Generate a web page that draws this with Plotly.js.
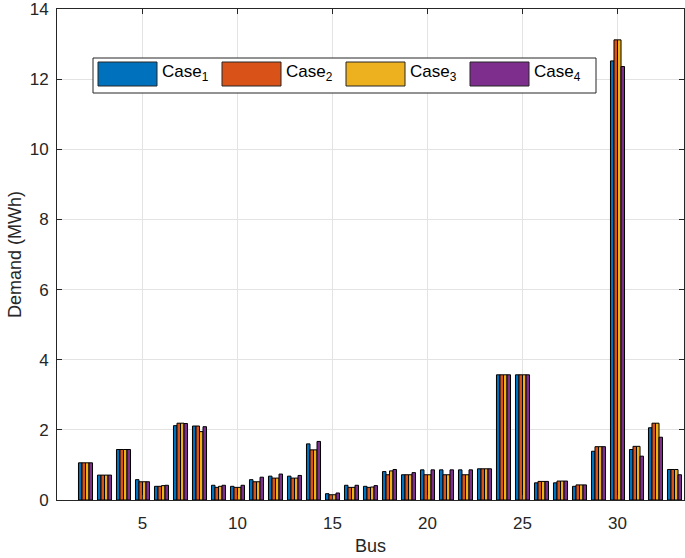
<!DOCTYPE html>
<html>
<head>
<meta charset="utf-8">
<script src="https://cdn.plot.ly/plotly-3.0.1.min.js"></script>
<style>html,body{margin:0;padding:0;background:#fff;}#chart{width:685px;height:558px;}</style>
</head>
<body>
<div id="chart"></div>
<script>
const buses = [2,3,4,5,6,7,8,9,10,11,12,13,14,15,16,17,18,19,20,21,22,23,24,25,26,27,28,29,30,31,32,33];
const case1 = [1.06,0.71,1.44,0.58,0.39,2.12,2.11,0.42,0.39,0.58,0.68,0.68,1.60,0.18,0.42,0.39,0.81,0.72,0.86,0.86,0.86,0.89,3.57,3.57,0.49,0.49,0.39,1.39,12.52,1.44,2.06,0.87];
const case2 = [1.06,0.71,1.44,0.52,0.39,2.19,2.11,0.36,0.36,0.52,0.625,0.625,1.43,0.15,0.36,0.36,0.72,0.72,0.72,0.72,0.72,0.89,3.57,3.57,0.53,0.54,0.43,1.52,13.12,1.53,2.19,0.87];
const case3 = [1.06,0.71,1.44,0.52,0.41,2.19,1.95,0.39,0.36,0.52,0.625,0.625,1.43,0.15,0.36,0.37,0.83,0.72,0.72,0.72,0.72,0.89,3.57,3.57,0.53,0.54,0.43,1.52,13.12,1.53,2.19,0.87];
const case4 = [1.06,0.71,1.44,0.52,0.42,2.18,2.09,0.42,0.42,0.65,0.74,0.70,1.67,0.20,0.42,0.41,0.87,0.78,0.86,0.86,0.86,0.89,3.57,3.57,0.53,0.54,0.43,1.52,12.36,1.25,1.79,0.72];
const seriesNames = ["Case<sub>1</sub>","Case<sub>2</sub>","Case<sub>3</sub>","Case<sub>4</sub>"];
const colors = ["#0072BD","#D95319","#EDB120","#7E2F8E"];
const xTicks = [5,10,15,20,25,30];
const yTicks = [0,2,4,6,8,10,12,14];

const series = [case1, case2, case3, case4];
const traces = series.map((vals, i) => ({
  type: 'bar', x: buses, y: vals, name: seriesNames[i],
  marker: {color: colors[i], line: {color: '#000000', width: 1}},
  showlegend: false
}));

// plot-area pixel geometry for the hand-laid legend box
const PL = 57, PR = 684, PT = 9, PB = 500;
const px = v => (v - PL) / (PR - PL);
const py = v => (PB - v) / (PB - PT);

const shapes = [{
  type: 'rect', xref: 'paper', yref: 'paper',
  x0: px(93), x1: px(596), y0: py(93), y1: py(58),
  fillcolor: '#ffffff', line: {color: '#262626', width: 1}, layer: 'above'
}];
const annotations = [];
for (let i = 0; i < 4; i++) {
  const sx = 98 + 124 * i;
  shapes.push({
    type: 'rect', xref: 'paper', yref: 'paper',
    x0: px(sx), x1: px(sx + 59), y0: py(86), y1: py(62),
    fillcolor: colors[i], line: {color: '#262626', width: 1}, layer: 'above'
  });
  annotations.push({
    xref: 'paper', yref: 'paper', x: px(sx + 62), y: py(73),
    xanchor: 'left', yanchor: 'middle', showarrow: false,
    text: seriesNames[i], font: {size: 17, color: '#000000'}
  });
}

const layout = {
  width: 685, height: 558,
  margin: {l: 57, r: 1, t: 9, b: 58},
  paper_bgcolor: '#ffffff', plot_bgcolor: '#ffffff',
  font: {family: 'Liberation Sans, Arial, sans-serif', size: 17, color: '#262626'},
  barmode: 'group', bargap: 0.26, bargroupgap: 0,
  xaxis: {
    range: [0.5, 33.5], tickvals: xTicks, ticktext: xTicks.map(String),
    ticks: 'inside', ticklen: 5, tickcolor: '#262626',
    ticklabelstandoff: 8, ticklabeloverflow: 'allow',
    showline: true, linecolor: '#262626', linewidth: 1, mirror: 'ticks',
    showgrid: true, gridcolor: '#e3e3e3', zeroline: false,
    title: {text: 'Bus', font: {size: 18, color: '#262626'}, standoff: 6}
  },
  yaxis: {
    range: [0, 14], tickvals: yTicks, ticktext: yTicks.map(String),
    ticks: 'inside', ticklen: 5, tickcolor: '#262626',
    ticklabelstandoff: 4, ticklabeloverflow: 'allow',
    showline: true, linecolor: '#262626', linewidth: 1, mirror: 'ticks',
    showgrid: true, gridcolor: '#e3e3e3', zeroline: false,
    title: {text: 'Demand (MWh)', font: {size: 18, color: '#262626'}, standoff: 3}
  },
  shapes: shapes, annotations: annotations
};

Plotly.newPlot('chart', traces, layout, {displayModeBar: false, staticPlot: true});
</script>
</body>
</html>
